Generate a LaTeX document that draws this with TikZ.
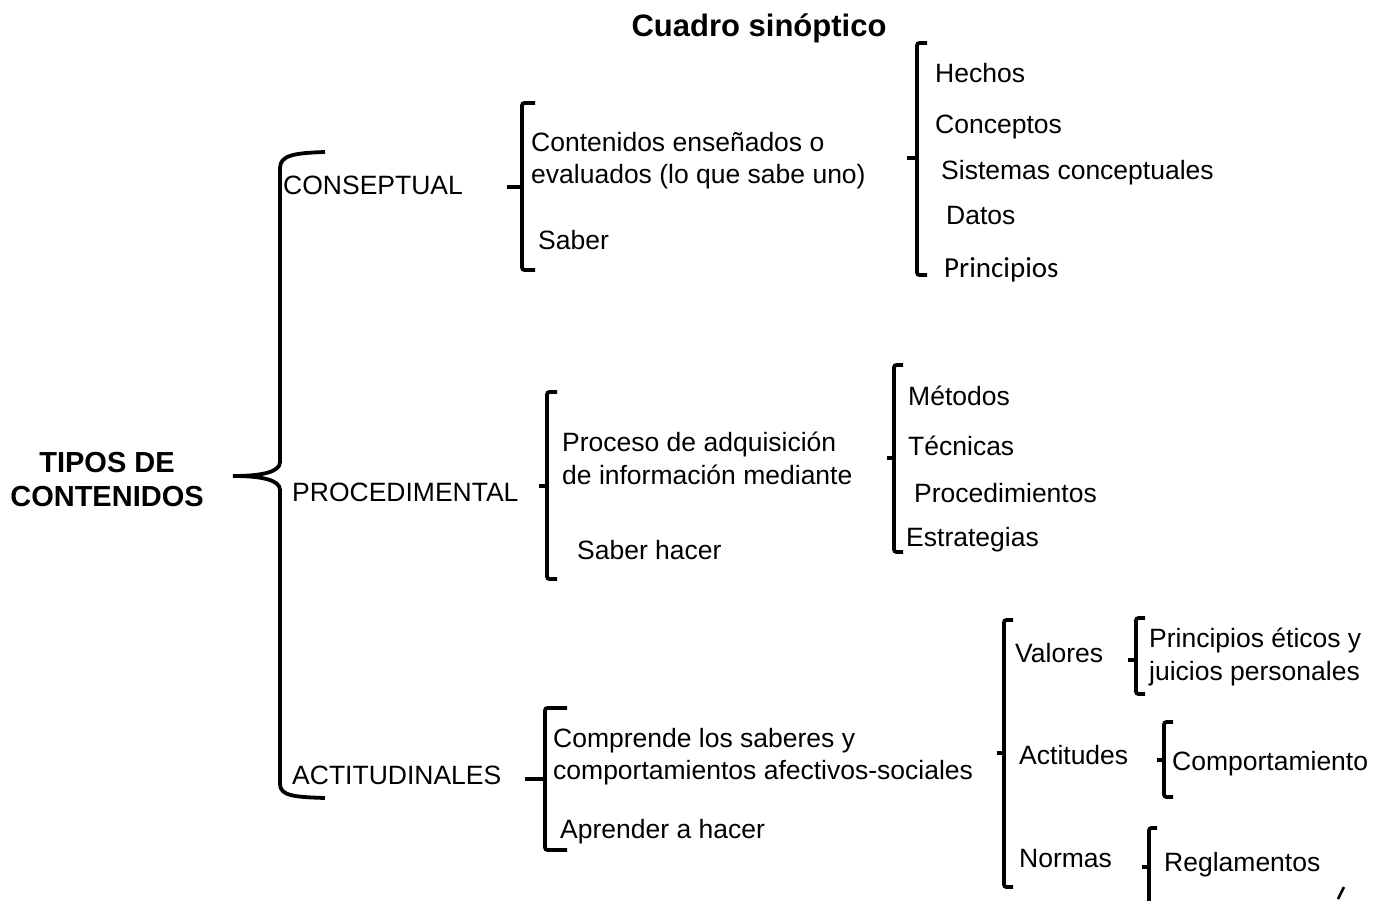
\documentclass[tikz,border=0pt]{standalone}
\usepackage{fontspec}
\setmainfont{Liberation Sans}
\newfontfamily\carl{Carlito}
\newcommand{\sqbr}[6]{%
  \draw[brk] (#4,#2) -- (#1,#2) -- (#1,#3) -- (#4,#3);
  \draw[brk] (#5,#6) -- (#1,#6);}
\begin{document}
\begin{tikzpicture}[x=1pt,y=-1pt,
  txt/.style={anchor=base west,inner sep=0pt,align=left,font=\fontsize{26.5}{32.5}\selectfont},
  brk/.style={line width=3.8pt,rounded corners=2.5pt},
  bigbr/.style={line width=3.8pt}]
\useasboundingbox (0,0) rectangle (1379,900);
% title
\node[anchor=base,inner sep=0pt,font=\fontsize{31}{36}\selectfont\bfseries] (title) at (759,36) {Cuadro sinóptico};
\node[anchor=base,inner sep=0pt,align=center,font=\fontsize{29}{34}\selectfont\bfseries] (tipos) at (107,506) {TIPOS DE\\CONTENIDOS};
% big brace
\draw[bigbr] (325,152) .. controls (295,153) and (280,155) .. (280,168) -- (280,462) .. controls (280,472) and (262,476) .. (233,476);
\draw[bigbr] (233,476) .. controls (262,476) and (280,480) .. (280,490) -- (280,784) .. controls (280,796) and (295,797) .. (325,798);
% level 1
\node[txt] (consep) at (283,194.5) {CONSEPTUAL};
\node[txt] (proced) at (292,501.5) {PROCEDIMENTAL};
\node[txt] (actit) at (292,784.5) {ACTITUDINALES};
% conceptual
\sqbr{522}{103}{270}{535}{507}{187}
\node[txt,font=\fontsize{26.5}{32}\selectfont] (c1) at (531,183.5) {Contenidos enseñados o\\evaluados (lo que sabe uno)};
\node[txt] (c2) at (538,249.5) {Saber};
\sqbr{917}{43}{275}{927}{907}{158}
\node[txt] (h1) at (935,82.5) {Hechos};
\node[txt] (h2) at (935,133.5) {Conceptos};
\node[txt] (h3) at (941,179.5) {Sistemas conceptuales};
\node[txt] (h4) at (946,224.5) {Datos};
\node[txt,font=\fontsize{29}{34}\selectfont\carl] (h5) at (944,277) {Principios};
% procedimental
\sqbr{547}{392}{579}{557}{539}{486}
\node[txt,font=\fontsize{26.5}{33}\selectfont] (p1) at (562,484.5) {Proceso de adquisición\\de información mediante};
\node[txt] (p2) at (577,559.5) {Saber hacer};
\sqbr{894}{365}{552}{903}{887}{458}
\node[txt] (m1) at (908,405.5) {Métodos};
\node[txt] (m2) at (908,455.5) {Técnicas};
\node[txt] (m3) at (914,502.5) {Procedimientos};
\node[txt] (m4) at (906,546.5) {Estrategias};
% actitudinales
\sqbr{545}{708}{850}{567}{525}{779}
\node[txt,font=\fontsize{26.5}{32}\selectfont] (a1) at (553,779.5) {Comprende los saberes y\\comportamientos afectivos-sociales};
\node[txt] (a2) at (560,838.5) {Aprender a hacer};
\sqbr{1004}{620}{887}{1013}{997}{753}
\node[txt] (v1) at (1015,662.5) {Valores};
\node[txt] (v2) at (1019,764.5) {Actitudes};
\node[txt] (v3) at (1019,867.5) {Normas};
\sqbr{1136}{618}{694}{1145}{1128}{660}
\node[txt,font=\fontsize{26.5}{33}\selectfont] (e1) at (1149,680.5) {Principios éticos y\\juicios personales};
\sqbr{1164}{722}{797}{1173}{1157}{760}
\node[txt] (e2) at (1172,770.5) {Comportamiento};
\draw[brk] (1157,828) -- (1149,828) -- (1149,902);
\draw[brk] (1142,867) -- (1149,867);
\node[txt] (e3) at (1164,871.5) {Reglamentos};
\draw[line width=2.5pt] (1344,887) -- (1338,899);
\end{tikzpicture}
\end{document}
